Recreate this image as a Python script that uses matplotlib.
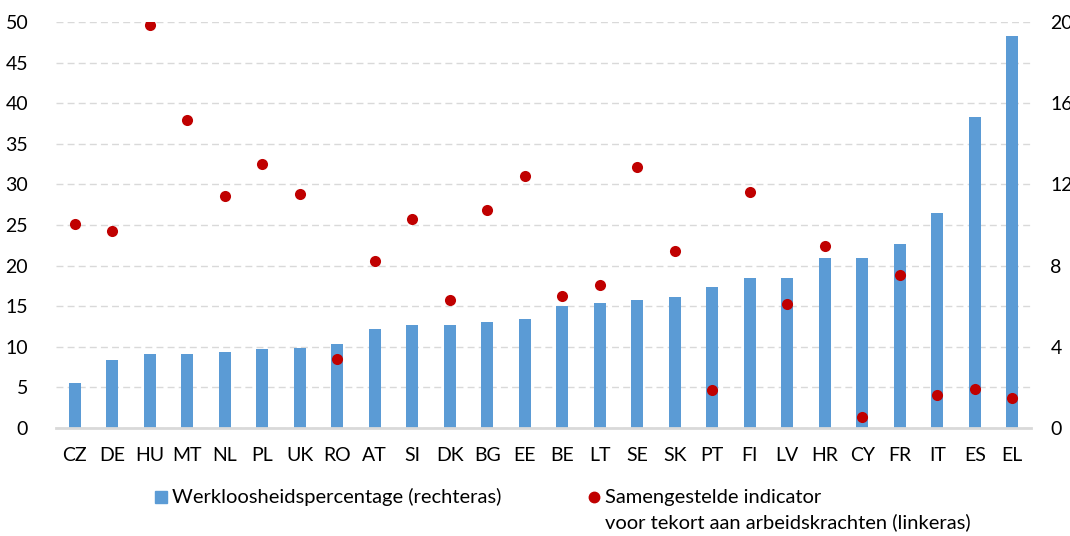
import matplotlib
matplotlib.use("Agg")
import matplotlib.pyplot as plt
from matplotlib.patches import Rectangle
from matplotlib.lines import Line2D
import numpy as np

countries = ["CZ", "DE", "HU", "MT", "NL", "PL", "UK", "RO", "AT", "SI", "DK", "BG", "EE",
             "BE", "LT", "SE", "SK", "PT", "FI", "LV", "HR", "CY", "FR", "IT", "ES", "EL"]
unemployment = [2.2, 3.35, 3.65, 3.65, 3.75, 3.9, 3.95, 4.15, 4.9, 5.05, 5.05, 5.2, 5.35,
                6.0, 6.15, 6.3, 6.45, 6.95, 7.4, 7.4, 8.35, 8.35, 9.05, 10.6, 15.3, 19.3]
shortage = [25.1, 24.2, 49.6, 37.9, 28.6, 32.5, 28.8, 8.5, 20.6, 25.7, 15.8, 26.8, 31.0,
            16.3, 17.6, 32.1, 21.8, 4.7, 29.1, 15.3, 22.4, 1.35, 18.9, 4.1, 4.8, 3.7]
left_ticks = [0, 5, 10, 15, 20, 25, 30, 35, 40, 45, 50]
right_ticks = [0, 4, 8, 12, 16, 20]
bar_label = "Werkloosheidspercentage (rechteras)"
dot_label_1 = "Samengestelde indicator"
dot_label_2 = "voor tekort aan arbeidskrachten (linkeras)"

BLUE = "#5B9BD5"
RED = "#C00000"
GRID = "#D9D9D9"
FONT = "Lato"
FS = 14
LFS = 14.5

plt.rcParams["font.family"] = [FONT, "DejaVu Sans"]

fig = plt.figure(figsize=(10.7, 5.36), dpi=100)
ax = fig.add_axes([0.0523, 0.2015, 0.9113, 0.7575])
ax2 = ax.twinx()

x = np.arange(len(countries))

# bars on the right axis (drawn underneath)
ax2.bar(x, unemployment, width=0.33, color=BLUE, zorder=2)
ax2.set_ylim(0, 20)
ax2.set_yticks(right_ticks)
ax2.set_yticks([2, 6, 10, 14, 18], minor=True)
ax2.grid(True, which="both", axis="y", color=GRID, linestyle=(0, (5, 3)), linewidth=1.0, zorder=0)
ax2.set_axisbelow(True)
ax2.tick_params(axis="y", which="both", length=0, labelsize=FS, pad=14, labelcolor="#000000")
for s in ax2.spines.values():
    s.set_visible(False)

# dots on the left axis (drawn on top)
ax.set_zorder(ax2.get_zorder() + 1)
ax.patch.set_visible(False)
ax.scatter(x, shortage, s=64, color=RED, zorder=3, linewidths=0)
ax.set_ylim(0, 50)
ax.set_yticks(left_ticks)
ax.set_xlim(-0.5, len(countries) - 0.5)
ax.set_xticks(x)
ax.set_xticklabels(countries)
ax.tick_params(axis="y", length=0, labelsize=FS, pad=20)
ax.tick_params(axis="x", length=0, labelsize=FS, pad=14)
for k in ["left", "right", "top"]:
    ax.spines[k].set_visible(False)
ax.spines["bottom"].set_color(GRID)
ax.spines["bottom"].set_linewidth(2)

# legend (manual)
fig.add_artist(Rectangle((155 / 1070, 1 - 503 / 536), 12 / 1070, 12 / 536,
                         transform=fig.transFigure, color=BLUE))
fig.text(172 / 1070, 1 - 497 / 536, bar_label, fontsize=LFS, va="center", ha="left")
fig.add_artist(Line2D([594 / 1070], [1 - 497 / 536], marker="o", markersize=7.5,
                      color=RED, transform=fig.transFigure, linestyle="none"))
fig.text(605 / 1070, 1 - 497 / 536, dot_label_1, fontsize=LFS, va="center", ha="left")
fig.text(605 / 1070, 1 - 522 / 536, dot_label_2, fontsize=LFS, va="center", ha="left")

fig.savefig("out.png", dpi=100)
